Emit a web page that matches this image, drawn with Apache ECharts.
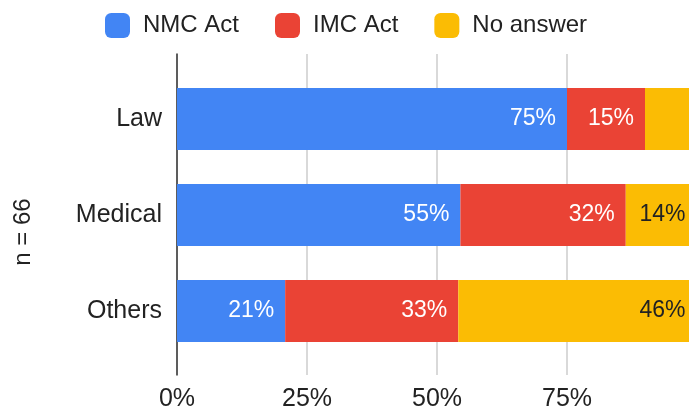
<!DOCTYPE html>
<html><head><meta charset="utf-8">
<script src="https://cdn.jsdelivr.net/npm/echarts@6/dist/echarts.min.js"></script>
<style>html,body{margin:0;padding:0;background:#fff}#c{width:689px;height:411px}</style>
</head><body><div id="c"></div>
<script>
// Data
const categories = ['Law', 'Medical', 'Others'];
const nmcAct   = [75, 54.5, 20.8];
const imcAct   = [15, 31.8, 33.3];
const noAnswer = [10, 13.6, 45.8];
const seriesNames = ['NMC Act', 'IMC Act', 'No answer'];
const xTickLabels = ['0%', '25%', '50%', '75%', ''];
const yAxisTitle = 'n = 66';
// labels that are not shown in the reference (per series, per category)
const hiddenLabel = [[false, false, false], [false, false, false], [true, false, false]];

const FONT = '"Liberation Sans", Arial, sans-serif';
const colors = ['#4285F4', '#EA4335', '#FBBC04'];
const labelColors = ['#ffffff', '#ffffff', '#222222'];
const values = [nmcAct, imcAct, noAnswer];

const chart = echarts.init(document.getElementById('c'), null, {renderer: 'canvas'});

const series = seriesNames.map((name, si) => ({
  name: name,
  type: 'bar',
  stack: 'total',
  xAxisIndex: 1,
  yAxisIndex: 1,
  barWidth: 62,
  itemStyle: {color: colors[si]},
  label: {
    show: true,
    position: 'insideRight',
    distance: 11,
    color: labelColors[si],
    fontFamily: FONT,
    fontSize: 23,
    formatter: p => Math.round(p.value) + '%'
  },
  data: values[si].map((v, ci) => hiddenLabel[si][ci] ? {value: v, label: {show: false}} : v)
}));

chart.setOption({
  animation: false,
  backgroundColor: '#ffffff',
  textStyle: {fontFamily: FONT},
  legend: {
    top: 8,
    left: 100,
    itemWidth: 25,
    itemHeight: 25,
    itemGap: 36,
    icon: 'roundRect',
    selectedMode: false,
    textStyle: {fontFamily: FONT, fontSize: 24, color: '#222', padding: [0, 0, 0, 8]},
    data: seriesNames
  },
  grid: [
    {left: 177, width: 520, top: 54, bottom: 36, outerBoundsMode: 'none', containLabel: false},
    {left: 177, width: 520, top: 71, bottom: 52, outerBoundsMode: 'none', containLabel: false}
  ],
  xAxis: [
    {
      gridIndex: 0, type: 'value', min: 0, max: 100, interval: 25,
      axisLine: {show: false}, axisTick: {show: false},
      splitLine: {show: true, lineStyle: {color: '#cccccc', width: 1.5}},
      axisLabel: {
        margin: 12, fontFamily: FONT, fontSize: 25, color: '#222',
        formatter: (v) => xTickLabels[Math.round(v / 25)]
      }
    },
    {
      gridIndex: 1, type: 'value', min: 0, max: 100, interval: 25,
      show: false, splitLine: {show: false}
    }
  ],
  yAxis: [
    {
      gridIndex: 0, type: 'value', min: 0, max: 1,
      axisLine: {show: true, onZero: false, lineStyle: {color: '#333', width: 1.5}},
      axisTick: {show: false}, axisLabel: {show: false}, splitLine: {show: false}
    },
    {
      gridIndex: 1, type: 'category', data: categories, inverse: true,
      axisLine: {show: false}, axisTick: {show: false}, splitLine: {show: false},
      axisLabel: {margin: 15, fontFamily: FONT, fontSize: 25, color: '#222'}
    }
  ],
  graphic: [{
    type: 'text',
    x: 23, y: 232,
    rotation: Math.PI / 2,
    style: {
      text: yAxisTitle, fontFamily: FONT, fontSize: 24, fill: '#222',
      align: 'center', verticalAlign: 'middle'
    }
  }],
  series: series
});
</script>
</body></html>
